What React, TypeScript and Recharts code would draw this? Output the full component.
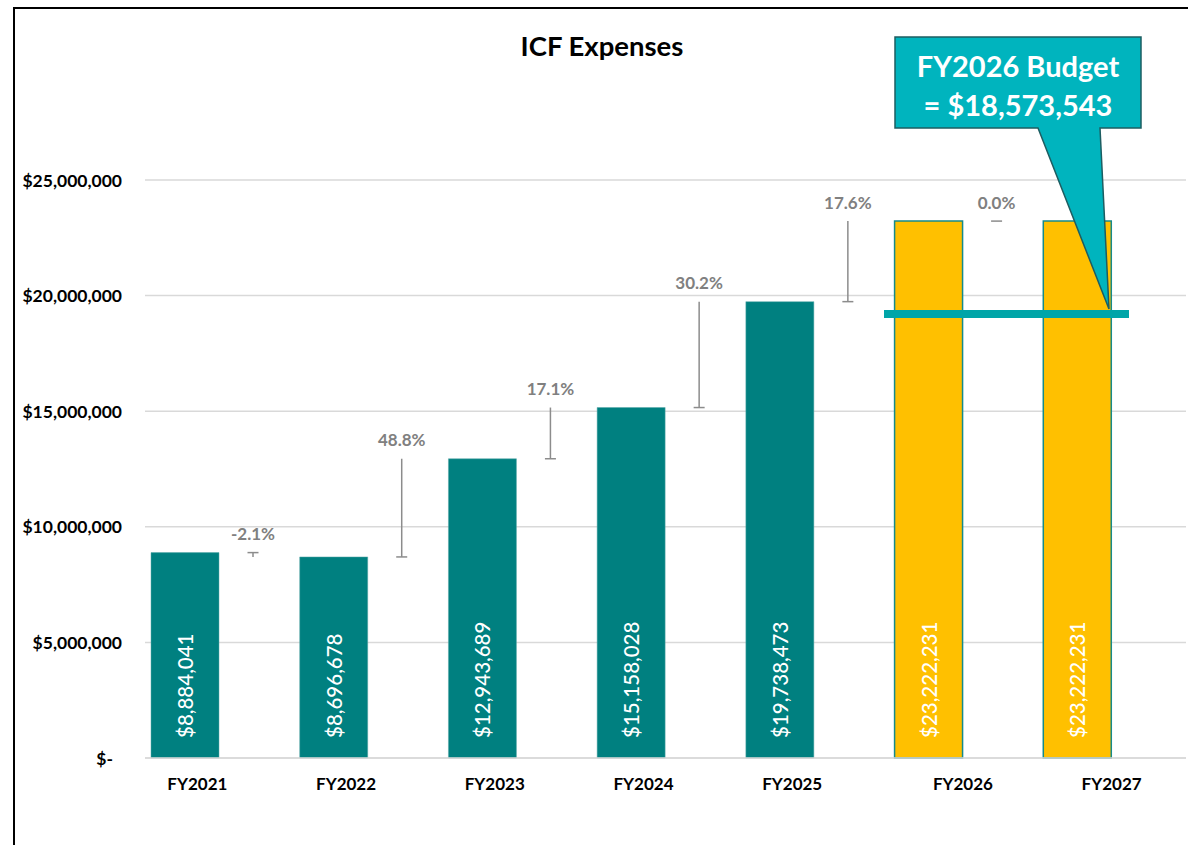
import React from "react";
import { BarChart, Bar, XAxis, YAxis, CartesianGrid, Cell, LabelList, ReferenceLine } from "recharts";

const categories = ["FY2021", "FY2022", "FY2023", "FY2024", "FY2025", "FY2026", "FY2027"];
const expenses = [8884041, 8696678, 12943689, 15158028, 19738473, 23222231, 23222231];
const projected = [false, false, false, false, false, true, true];
const changeLabels = ["-2.1%", "48.8%", "17.1%", "30.2%", "17.6%", "0.0%", null];
const yTicks = [0, 5000000, 10000000, 15000000, 20000000, 25000000];
const budgetText = ["FY2026 Budget", "= $18,573,543"];
const budgetLineValue = 19200000;
const title = "ICF Expenses";

const FONT = "Lato, 'Open Sans', sans-serif";
const TEAL = "#008080";
const GOLD = "#FFC000";
const GRAY = "#808080";

const data = categories.map((name, i) => {
  const next = i < expenses.length - 1 ? expenses[i + 1] : null;
  return {
    name,
    value: expenses[i],
    change: next === null ? null : [Math.min(expenses[i], next), Math.max(expenses[i], next)],
    rising: next === null ? true : next >= expenses[i],
    label: changeLabels[i],
    projected: projected[i],
  };
});

const fmtMoney = (v: number) => "$" + Math.round(v).toLocaleString("en-US");

const YTick = (props: any) => {
  const { x, y, payload } = props;
  const v = payload.value;
  const text = v === 0 ? "$-" : fmtMoney(v);
  return (
    <text x={v === 0 ? x - 24 : x - 15} y={y} textAnchor="end" dominantBaseline="central"
      fontFamily={FONT} fontWeight={700} fontSize={17.5} fill="#000">
      {text}
    </text>
  );
};

const XTick = (props: any) => {
  const { x, y, payload, index } = props;
  const shift = index < 5 ? -22 : 0;
  return (
    <text x={x + shift} y={y + 17} textAnchor="middle" dominantBaseline="central"
      fontFamily={FONT} fontWeight={700} fontSize={17} fill="#000">
      {payload.value}
    </text>
  );
};

const ValueLabel = (props: any) => {
  const { x, y, width, height, value } = props;
  const cx = x + width / 2;
  const by = y + height - 20;
  return (
    <text x={cx} y={by} transform={`rotate(-90 ${cx} ${by})`} textAnchor="start" dominantBaseline="central"
      fontFamily={FONT} fontWeight={500} fontSize={20.5} fill="#fff">
      {fmtMoney(value)}
    </text>
  );
};

const ChangeShape = (props: any) => {
  const { x, y, width, height, payload } = props;
  if (!payload || !payload.change) return null;
  const cx = x + width / 2;
  const top = y;
  const bottom = y + height;
  const capY = payload.rising ? bottom : top;
  return (
    <g>
      {height > 0.5 && <line x1={cx} x2={cx} y1={top} y2={bottom} stroke="#8c8c8c" strokeWidth={1.5} />}
      <line x1={cx - 5.5} x2={cx + 5.5} y1={capY} y2={capY} stroke="#8c8c8c" strokeWidth={1.5} />
      <text x={cx} y={top - 19} textAnchor="middle" dominantBaseline="central"
        fontFamily={FONT} fontWeight={700} fontSize={17} fill={GRAY}>
        {payload.label}
      </text>
    </g>
  );
};

const BudgetShape = (props: any) => {
  const { x2, y1 } = props;
  const lx1 = x2 - 302;
  const lx2 = x2 - 57;
  const tipX = x2 - 77;
  const tipY = y1 - 5;
  const bx1 = 895, bx2 = 1141, by1 = 37, by2 = 128;
  const path = `M${bx1},${by1} H${bx2} V${by2} H1100 L${tipX},${tipY} L1038,${by2} H${bx1} Z`;
  return (
    <g>
      <line x1={lx1} x2={lx2} y1={y1} y2={y1} stroke="#00A5A8" strokeWidth={8} />
      <path d={path} fill="#00B4BE" stroke="#1d5d61" strokeWidth={1.5} />
      <text x={1018} y={65} textAnchor="middle" dominantBaseline="central"
        fontFamily={FONT} fontWeight={700} fontSize={29} fill="#fff">{budgetText[0]}</text>
      <text x={1018} y={104} textAnchor="middle" dominantBaseline="central"
        fontFamily={FONT} fontWeight={700} fontSize={29} fill="#fff">{budgetText[1]}</text>
    </g>
  );
};

export default function App() {
  return (
    <div style={{ position: "fixed", left: 0, top: 0, width: 1188, height: 845, overflow: "hidden", background: "#fff" }}>
      <div style={{ position: "absolute", left: 13, top: 7, width: 1400, height: 1100, border: "2px solid #000" }} />
      <div style={{ position: "absolute", left: 0, top: 0 }}>
        <BarChart width={1188} height={845} data={data} margin={{ top: 180, right: 2, bottom: 57, left: 0 }}
          barGap={0} barSize={68}>
          <text x={602} y={45} textAnchor="middle" dominantBaseline="central"
            fontFamily={FONT} fontWeight={700} fontSize={27.5} fill="#000">{title}</text>
          <CartesianGrid vertical={false} stroke="#d9d9d9" strokeWidth={1.5} />
          <XAxis dataKey="name" tickLine={false} axisLine={{ stroke: "#d9d9d9", strokeWidth: 1.5 }} tick={<XTick />} interval={0} />
          <YAxis width={145} domain={[0, 25000000]} ticks={yTicks} tickLine={false} axisLine={false} tick={<YTick />} />
          <Bar dataKey="value" isAnimationActive={false}>
            {data.map((d, i) => (
              <Cell key={i} fill={d.projected ? GOLD : TEAL} stroke={d.projected ? "#168a8a" : "#5aa9a9"} strokeWidth={d.projected ? 1.5 : 0.5} />
            ))}
            <LabelList dataKey="value" content={<ValueLabel />} />
          </Bar>
          <Bar dataKey="change" isAnimationActive={false} shape={<ChangeShape />} fill="transparent" />
          <ReferenceLine y={budgetLineValue} shape={<BudgetShape />} ifOverflow="visible" />
        </BarChart>
      </div>
    </div>
  );
}
